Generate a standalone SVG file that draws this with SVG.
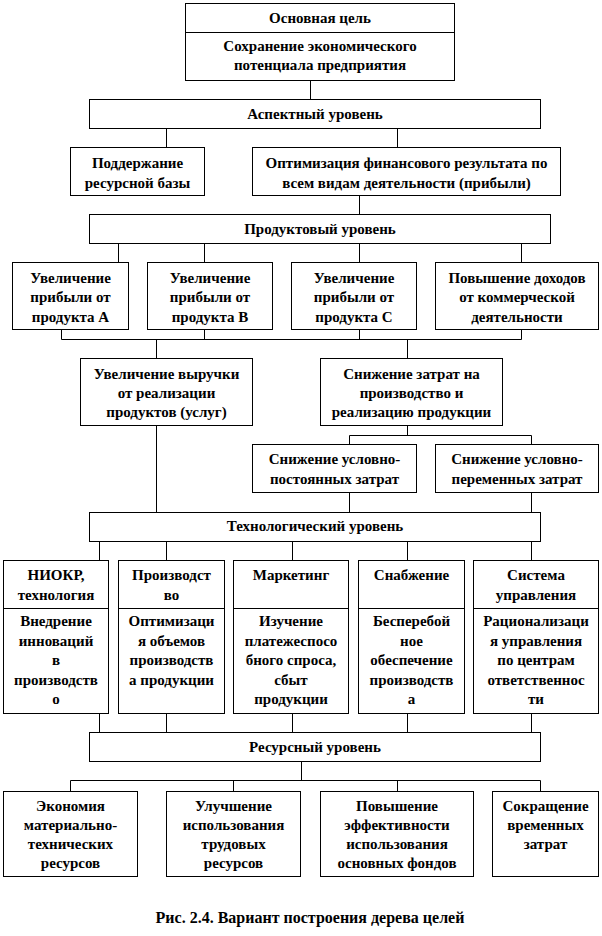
<svg xmlns="http://www.w3.org/2000/svg" width="602" height="936" viewBox="0 0 602 936">
<style>
.b{fill:#fff;stroke:#000;stroke-width:1}
.l{fill:none;stroke:#000;stroke-width:1}
text{font-family:'Liberation Serif','DejaVu Serif',serif;font-weight:bold;font-size:15px;fill:#000;text-anchor:middle}
.cap{font-size:16px}
</style>
<rect x="0" y="0" width="602" height="936" fill="#fff"/>
<g id="connectors">
<path class="l" d="M310.5 80V99M166.5 128V147M397.5 128V147M359.5 195V214M118.5 243V262M204.5 243V262M359.5 243V262M521.5 243V262"/>
<path class="l" d="M61.5 329V339.5H521.5V329M204.5 329V339.5M359.5 329V339.5M156.5 339.5V359M407.5 339.5V359"/>
<path class="l" d="M407.5 425V435.5M349.5 444V435.5H531.5V444M156.5 425V512M349.5 492V512M531.5 492V512"/>
<path class="l" d="M99.5 541V560M166.5 541V560M292.5 541V560M407.5 541V560M531.5 541V560"/>
<path class="l" d="M99.5 713V732M166.5 713V732M292.5 713V732M407.5 713V732M531.5 713V732"/>
<path class="l" d="M301.5 761V780.5M70.5 791V780.5H540.5V791M233.5 780.5V791M397.5 780.5V791"/>
</g>
<g id="goal"><rect class="b" x="185.5" y="3.5" width="269" height="77"/><path class="l" d="M185.5 32.5H454.5"/>
<text x="320" y="23">Основная цель</text><text x="320" y="51">Сохранение экономического</text><text x="320" y="70">потенциала предприятия</text></g>
<g id="aspect"><rect class="b" x="89.5" y="99.5" width="451" height="29"/><text x="315" y="119">Аспектный уровень</text></g>
<g id="support"><rect class="b" x="70.5" y="147.5" width="134" height="48"/><text x="137.5" y="168">Поддержание</text><text x="137.5" y="188">ресурсной базы</text></g>
<g id="optim"><rect class="b" x="252.5" y="147.5" width="308" height="48"/><text x="406.5" y="168">Оптимизация финансового результата по</text><text x="406.5" y="188">всем видам деятельности (прибыли)</text></g>
<g id="product"><rect class="b" x="89.5" y="214.5" width="461" height="29"/><text x="320" y="234">Продуктовый уровень</text></g>
<g id="pA"><rect class="b" x="12.5" y="262.5" width="116" height="67"/><text x="70.5" y="283">Увеличение</text><text x="70.5" y="302">прибыли от</text><text x="70.5" y="322">продукта А</text></g>
<g id="pB"><rect class="b" x="147.5" y="262.5" width="125" height="67"/><text x="210" y="283">Увеличение</text><text x="210" y="302">прибыли от</text><text x="210" y="322">продукта В</text></g>
<g id="pC"><rect class="b" x="291.5" y="262.5" width="125" height="67"/><text x="354" y="283">Увеличение</text><text x="354" y="302">прибыли от</text><text x="354" y="322">продукта С</text></g>
<g id="pD"><rect class="b" x="435.5" y="262.5" width="163" height="67"/><text x="517" y="283">Повышение доходов</text><text x="517" y="302">от коммерческой</text><text x="517" y="322">деятельности</text></g>
<g id="revenue"><rect class="b" x="80.5" y="358.5" width="172" height="67"/><text x="166.5" y="379">Увеличение выручки</text><text x="166.5" y="398">от реализации</text><text x="166.5" y="417">продуктов (услуг)</text></g>
<g id="costs"><rect class="b" x="320.5" y="358.5" width="182" height="67"/><text x="411.5" y="379">Снижение затрат на</text><text x="411.5" y="398">производство и</text><text x="411.5" y="417">реализацию продукции</text></g>
<g id="fixed"><rect class="b" x="252.5" y="444.5" width="164" height="48"/><text x="334.5" y="464">Снижение условно-</text><text x="334.5" y="484">постоянных затрат</text></g>
<g id="variable"><rect class="b" x="435.5" y="444.5" width="163" height="48"/><text x="517" y="464">Снижение условно-</text><text x="517" y="484">переменных затрат</text></g>
<g id="tech"><rect class="b" x="89.5" y="512.5" width="451" height="29"/><text x="315" y="531">Технологический уровень</text></g>
<g id="niokr"><rect class="b" x="3.5" y="560.5" width="105" height="153"/><path class="l" d="M3.5 608.5H108.5"/>
<text x="56" y="580">НИОКР,</text><text x="56" y="600">технология</text>
<text x="56" y="626">Внедрение</text><text x="56" y="645.5">инноваций</text><text x="56" y="665">в</text><text x="56" y="684.5">производств</text><text x="56" y="704">о</text></g>
<g id="prod"><rect class="b" x="118.5" y="560.5" width="106" height="153"/><path class="l" d="M118.5 608.5H224.5"/>
<text x="171.5" y="580">Производст</text><text x="171.5" y="600">во</text>
<text x="171.5" y="626">Оптимизаци</text><text x="171.5" y="645.5">я объемов</text><text x="171.5" y="665">производств</text><text x="171.5" y="684.5">а продукции</text></g>
<g id="mkt"><rect class="b" x="233.5" y="560.5" width="115" height="153"/><path class="l" d="M233.5 608.5H348.5"/>
<text x="291" y="580">Маркетинг</text>
<text x="291" y="626">Изучение</text><text x="291" y="645.5">платежеспосо</text><text x="291" y="665">бного спроса,</text><text x="291" y="684.5">сбыт</text><text x="291" y="704">продукции</text></g>
<g id="supply"><rect class="b" x="358.5" y="560.5" width="106" height="153"/><path class="l" d="M358.5 608.5H464.5"/>
<text x="411.5" y="580">Снабжение</text>
<text x="411.5" y="626">Бесперебой</text><text x="411.5" y="645.5">ное</text><text x="411.5" y="665">обеспечение</text><text x="411.5" y="684.5">производств</text><text x="411.5" y="704">а</text></g>
<g id="mgmt"><rect class="b" x="473.5" y="560.5" width="125" height="153"/><path class="l" d="M473.5 608.5H598.5"/>
<text x="536" y="580">Система</text><text x="536" y="600">управления</text>
<text x="536" y="626">Рационализаци</text><text x="536" y="645.5">я управления</text><text x="536" y="665">по центрам</text><text x="536" y="684.5">ответственнос</text><text x="536" y="704">ти</text></g>
<g id="resource"><rect class="b" x="89.5" y="732.5" width="451" height="29"/><text x="315" y="752">Ресурсный уровень</text></g>
<g id="r1"><rect class="b" x="3.5" y="791.5" width="134" height="85"/><text x="70.5" y="811">Экономия</text><text x="70.5" y="830">материально-</text><text x="70.5" y="849">технических</text><text x="70.5" y="868">ресурсов</text></g>
<g id="r2"><rect class="b" x="166.5" y="791.5" width="134" height="85"/><text x="233.5" y="811">Улучшение</text><text x="233.5" y="830">использования</text><text x="233.5" y="849">трудовых</text><text x="233.5" y="868">ресурсов</text></g>
<g id="r3"><rect class="b" x="320.5" y="791.5" width="153" height="85"/><text x="397" y="811">Повышение</text><text x="397" y="830">эффективности</text><text x="397" y="849">использования</text><text x="397" y="868">основных фондов</text></g>
<g id="r4"><rect class="b" x="492.5" y="791.5" width="106" height="85"/><text x="545.5" y="811">Сокращение</text><text x="545.5" y="830">временных</text><text x="545.5" y="849">затрат</text></g>
<text class="cap" x="310" y="923">Рис. 2.4. Вариант построения дерева целей</text>
</svg>
